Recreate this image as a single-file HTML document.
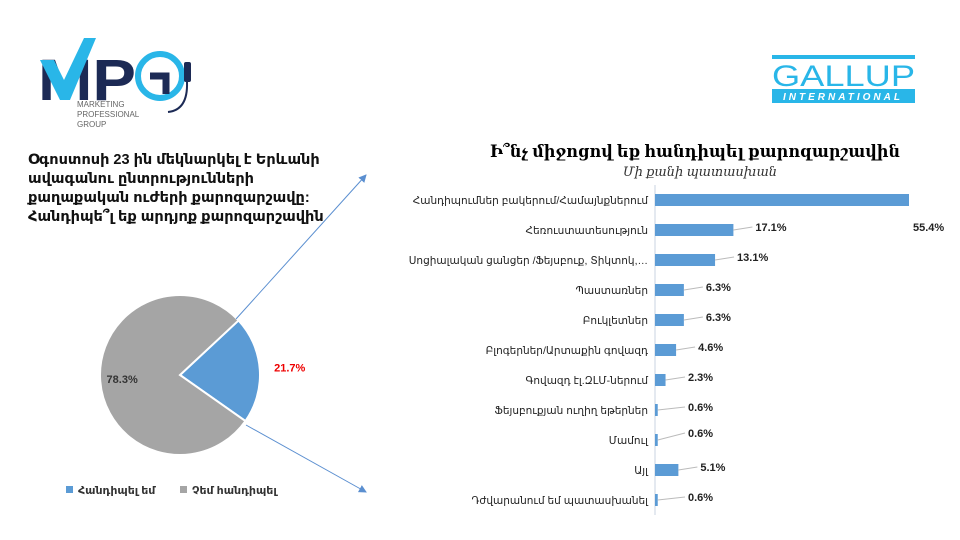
<!DOCTYPE html>
<html><head><meta charset="utf-8"><style>
body{margin:0;width:960px;height:540px;background:#fff;overflow:hidden;font-family:"Liberation Sans","DejaVu Sans",sans-serif}
svg{position:absolute;left:0;top:0}
</style></head><body>
<svg width="960" height="540">
<defs><marker id="ar" markerWidth="8" markerHeight="8" refX="7" refY="4" orient="auto"><path d="M0,0 L8,4 L0,8 z" fill="#5b8fd0"/></marker></defs>
<g>
<text x="38" y="100" font-size="58" font-weight="bold" fill="#1c2a55" font-family="Liberation Sans,sans-serif" textLength="98" lengthAdjust="spacingAndGlyphs">MP</text>
<path d="M40,60 L54,60 L64,80 L84,38 L96,38 L70,100 L60,100 Z" fill="#29b6e8"/>
<circle cx="160" cy="76" r="22" fill="none" stroke="#29b6e8" stroke-width="6"/>
<path d="M150,76 L166,76 L166,94" fill="none" stroke="#1c2a55" stroke-width="7"/>
<rect x="184" y="62" width="7" height="20" rx="2" fill="#1c2a55"/>
<path d="M187,82 Q188,110 168,112" fill="none" stroke="#1c2a55" stroke-width="2"/>
<text x="77" y="107" font-size="8" fill="#666">MARKETING</text>
<text x="77" y="117" font-size="8" fill="#666">PROFESSIONAL</text>
<text x="77" y="127" font-size="8" fill="#666">GROUP</text>
</g>
<g>
<rect x="772" y="55" width="143" height="4" fill="#29b6e8"/>
<text x="772" y="86" font-size="30" fill="#29b6e8" textLength="143" lengthAdjust="spacingAndGlyphs">GALLUP</text>
<rect x="772" y="89" width="143" height="14" fill="#29b6e8"/>
<text x="843" y="100" font-size="10" font-weight="bold" font-style="italic" fill="#fff" text-anchor="middle" letter-spacing="3">INTERNATIONAL</text>
</g>
<g font-family="Liberation Sans,'DejaVu Sans',sans-serif" font-size="14.5" font-weight="bold" fill="#111">
<text x="28" y="164">Օգոստոսի 23 ին մեկնարկել է Երևանի</text>
<text x="28" y="183">ավագանու ընտրությունների</text>
<text x="28" y="202">քաղաքական ուժերի քարոզարշավը:</text>
<text x="28" y="221">Հանդիպե՞լ եք արդյոք քարոզարշավին</text>
</g>
<g id="pie"></g>
<line x1="236" y1="319" x2="366" y2="175" stroke="#5b8fd0" stroke-width="1" marker-end="url(#ar)"/>
<line x1="246" y1="425" x2="366" y2="492" stroke="#5b8fd0" stroke-width="1" marker-end="url(#ar)"/>
<g font-size="11" font-weight="bold" fill="#333">
<rect x="66" y="486" width="7" height="7" fill="#5b9bd5"/><text x="78" y="494">Հանդիպել եմ</text>
<rect x="180" y="486" width="7" height="7" fill="#a5a5a5"/><text x="192" y="494">Չեմ հանդիպել</text>
</g>
<text x="695" y="157" font-size="17" font-weight="bold" text-anchor="middle" font-family="Liberation Serif,'DejaVu Serif',serif" textLength="410" lengthAdjust="spacingAndGlyphs">Ի՞նչ միջոցով եք հանդիպել քարոզարշավին</text>
<text x="700" y="176" font-size="13" font-style="italic" text-anchor="middle" fill="#333" font-family="Liberation Serif,'DejaVu Serif',serif">Մի քանի պատասխան</text>
<g id="bars"></g>
</svg>
<script>
const pieLabels=["Հանդիպել եմ","Չեմ հանդիպել"];
const pieValues=[21.7,78.3];
const barCategories=["Հանդիպումներ բակերում/Համայնքներում","Հեռուստատեսություն","Սոցիալական ցանցեր /Ֆեյսբուք, Տիկտոկ,…","Պաստառներ","Բուկլետներ","Բլոգերներ/Արտաքին գովազդ","Գովազդ էլ.ԶԼՄ-ներում","Ֆեյսբուքյան ուղիղ եթերներ","Մամուլ","Այլ","Դժվարանում եմ պատասխանել"];
const barValues=[55.4,17.1,13.1,6.3,6.3,4.6,2.3,0.6,0.6,5.1,0.6];
const NS="http://www.w3.org/2000/svg";
function mk(t,a,p){const e=document.createElementNS(NS,t);for(const k in a)e.setAttribute(k,a[k]);p.appendChild(e);return e;}
const pie=document.getElementById('pie');
const cx=180,cy=375,r=80,startDeg=47;
const tot=pieValues.reduce((a,b)=>a+b,0);
const colors=["#5b9bd5","#a5a5a5"];
let ang=startDeg;
pieValues.forEach((v,i)=>{
  const a0=ang*Math.PI/180,a1=(ang+v/tot*360)*Math.PI/180;
  const x0=cx+r*Math.sin(a0),y0=cy-r*Math.cos(a0),x1=cx+r*Math.sin(a1),y1=cy-r*Math.cos(a1);
  const large=(v/tot)>0.5?1:0;
  const p=mk('path',{d:`M${cx},${cy} L${x0},${y0} A${r},${r} 0 ${large} 1 ${x1},${y1} Z`,fill:colors[i],stroke:'#fff','stroke-width':2},pie);
  
  
  const mid=(a0+a1)/2;
  const lr=i===0?r+30:r-22;
  const t=mk('text',{x:cx+lr*Math.sin(mid),y:cy-lr*Math.cos(mid)+4,'font-size':11,'font-weight':'bold','text-anchor':'middle',fill:i===0?'#e00':'#333'},pie);
  t.textContent=v.toFixed(1)+'%';
  
  
  ang+=v/tot*360;
});
const g=document.getElementById('bars');
const x0=655,scale=254/55.4,y0=200,step=30,bh=12;
const xs=v=>x0+v*scale, ys=i=>y0+i*step;
const ax=mk('line',{x1:x0,y1:185,x2:x0,y2:515,stroke:'#c9d3e0','stroke-width':1},g);


barCategories.forEach((c,i)=>{
  const y=ys(i),v=barValues[i],xe=xs(v);
  const t=mk('text',{x:648,y:y+4,'font-size':10.5,'text-anchor':'end',fill:'#222'},g);
  t.textContent=c;
  
  
  const b=mk('rect',{x:x0,y:y-bh/2,width:Math.max(xe-x0,2),height:bh,fill:'#5b9bd5'},g);
  
  
  let lx,ly;
  if(i===0){lx=xe+4;ly=y+31;}else{lx=Math.max(xe+22,688);ly=y+(i===8?-3:1);}
  if(i!==0){
    const l=mk('line',{x1:xe,y1:y,x2:lx-3,y2:ly-4,stroke:'#bbb','stroke-width':1},g);
    
    
  }
  const vt=mk('text',{x:lx,y:ly,'font-size':11,'font-weight':'bold',fill:'#222'},g);
  vt.textContent=v.toFixed(1)+'%';
  
  
});
</script>
</body></html>
